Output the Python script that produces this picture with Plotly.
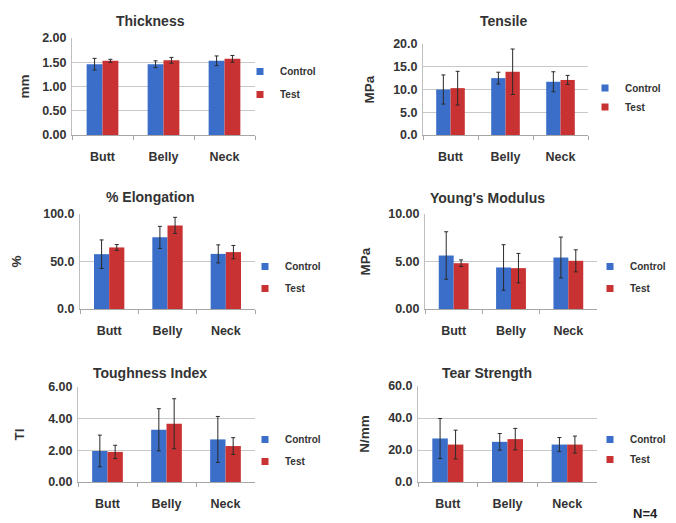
import plotly.graph_objects as go

W, H = 676, 523
OFF = 8  # page body margin in the browser

categories = ["Butt", "Belly", "Neck"]
series_names = ["Control", "Test"]

thickness_control = [1.46, 1.46, 1.53]
thickness_control_err = [0.12, 0.07, 0.10]
thickness_test = [1.53, 1.54, 1.57]
thickness_test_err = [0.03, 0.06, 0.07]

tensile_control = [10.0, 12.5, 11.7]
tensile_control_err = [3.2, 1.3, 2.2]
tensile_test = [10.3, 13.9, 12.1]
tensile_test_err = [3.7, 5.0, 1.0]

elong_control = [57.7, 75.4, 58.0]
elong_control_err = [15.0, 11.6, 9.5]
elong_test = [64.8, 88.0, 59.9]
elong_test_err = [3.0, 8.5, 7.0]

young_control = [5.63, 4.37, 5.42]
young_control_err = [2.5, 2.4, 2.15]
young_test = [4.82, 4.30, 5.07]
young_test_err = [0.35, 1.55, 1.16]

tough_control = [1.96, 3.30, 2.69]
tough_control_err = [1.0, 1.33, 1.45]
tough_test = [1.90, 3.68, 2.27]
tough_test_err = [0.42, 1.58, 0.53]

tear_control = [27.2, 25.1, 23.4]
tear_control_err = [12.5, 5.2, 4.4]
tear_test = [23.4, 26.8, 23.4]
tear_test_err = [9.0, 6.7, 5.3]

panel_titles = ["Thickness", "Tensile", "% Elongation", "Young's Modulus",
                "Toughness Index", "Tear Strength"]
y_titles = ["mm", "MPa", "%", "MPa", "TI", "N/mm"]
y_max = [2.0, 20.0, 100.0, 10.0, 6.0, 60.0]
y_dtick = [0.5, 5.0, 50.0, 5.0, 2.0, 20.0]
y_fmt = [".2f", ".1f", ".1f", ".2f", ".2f", ".1f"]

data = [
    (thickness_control, thickness_control_err, thickness_test, thickness_test_err),
    (tensile_control, tensile_control_err, tensile_test, tensile_test_err),
    (elong_control, elong_control_err, elong_test, elong_test_err),
    (young_control, young_control_err, young_test, young_test_err),
    (tough_control, tough_control_err, tough_test, tough_test_err),
    (tear_control, tear_control_err, tear_test, tear_test_err),
]

# layout in screen pixels: (left, right, top, bottom)
boxes = [(72, 255, 38, 135), (423, 588, 44, 135),
         (80, 255, 214, 309), (425, 597, 214, 309),
         (78, 255, 387, 482), (418, 597, 386, 482)]
title_pos = [(150, 21), (503, 21), (150, 197), (487, 198), (150, 373), (487, 373)]
y_standoff = [9, 15, 18, 14, 20, 15]
legend_pos = [(240, 57), (585, 73.5), (245, 252), (590, 252), (245, 425), (590, 425)]
legend_gap = [4, 0, 3, 3, 3, 1]

colors = ["#3a6ec8", "#c83232"]
font_fam = "Liberation Sans, Arial, sans-serif"
txt_col = "#333333"

fig = go.Figure()
layout = dict(
    width=W, height=H,
    margin=dict(l=0, r=0, t=0, b=0, autoexpand=False),
    paper_bgcolor="white", plot_bgcolor="white",
    barmode="group", bargap=0.48, bargroupgap=0.0,
    font=dict(family=font_fam, color=txt_col),
    showlegend=True,
    annotations=[],
)


def px_x(v):
    return (v - OFF) / W


def px_y(v):
    return 1 - (v - OFF) / H


for i in range(6):
    n = i + 1
    xa = "x" if n == 1 else f"x{n}"
    ya = "y" if n == 1 else f"y{n}"
    lg = "legend" if n == 1 else f"legend{n}"
    c, ce, t, te = data[i]
    for j, (vals, errs) in enumerate([(c, ce), (t, te)]):
        fig.add_trace(go.Bar(
            x=categories, y=vals, name=series_names[j],
            marker=dict(color=colors[j], line=dict(width=0)),
            error_y=dict(type="data", array=errs, visible=True,
                         color="#2a2a2a", thickness=1, width=2),
            xaxis=xa, yaxis=ya, showlegend=False,
            legendgroup=f"{n}-{j}", offsetgroup=str(j),
        ))
    # legend entries (small square keys, as in the original)
    for j in range(2):
        fig.add_trace(go.Scatter(
            x=[None], y=[None], mode="markers", name=series_names[j],
            marker=dict(symbol="square", size=7, color=colors[j]),
            xaxis=xa, yaxis=ya, legend=lg, legendgroup=f"{n}-{j}",
            showlegend=True, hoverinfo="skip",
        ))
    l, r, tp, b = boxes[i]
    layout["xaxis" if n == 1 else f"xaxis{n}"] = dict(
        domain=[px_x(l), px_x(r)], anchor=ya,
        showline=True, linecolor="#a6a6a6", linewidth=1,
        ticks="outside", tickson="boundaries", ticklen=4, tickcolor="#a6a6a6",
        ticklabelstandoff=10,
        tickfont=dict(size=12.5, color=txt_col, family=font_fam, weight="bold"),
        showgrid=False, fixedrange=True,
    )
    layout["yaxis" if n == 1 else f"yaxis{n}"] = dict(
        domain=[px_y(b), px_y(tp)], anchor=xa,
        range=[0, y_max[i]], dtick=y_dtick[i], tickformat=y_fmt[i],
        showline=True, linecolor="#bfbfbf", linewidth=1,
        showgrid=True, gridcolor="#c8c8c8", gridwidth=1,
        zeroline=False, ticks="", ticklabelstandoff=2,
        tickfont=dict(size=12.5, color=txt_col, family=font_fam, weight="bold"),
        title=dict(text=y_titles[i], standoff=y_standoff[i],
                   font=dict(size=13.5, color=txt_col, family=font_fam,
                             weight="bold")),
        fixedrange=True,
    )
    lx, ly = legend_pos[i]
    layout[lg] = dict(
        x=px_x(lx), y=px_y(ly), xanchor="left", yanchor="top",
        font=dict(size=10, color=txt_col, family=font_fam, weight="bold"),
        bgcolor="rgba(0,0,0,0)", traceorder="grouped",
        tracegroupgap=legend_gap[i], itemwidth=30, itemclick=False,
    )
    tx, ty = title_pos[i]
    layout["annotations"].append(dict(
        text=f"<b>{panel_titles[i]}</b>", x=px_x(tx), y=px_y(ty),
        xref="paper", yref="paper", showarrow=False,
        xanchor="center", yanchor="middle",
        font=dict(size=14, color=txt_col, family=font_fam),
    ))

layout["annotations"].append(dict(
    text="<b>N=4</b>", x=px_x(645), y=px_y(513), xref="paper", yref="paper",
    showarrow=False, xanchor="center", yanchor="middle",
    font=dict(size=13, color="#222222", family=font_fam),
))

fig.update_layout(**layout)
fig.write_html("out.html")
